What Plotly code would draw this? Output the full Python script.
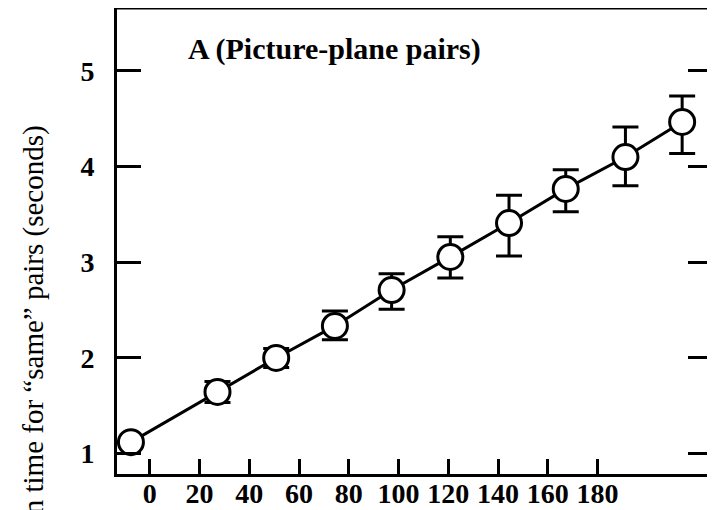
import plotly.graph_objects as go

# Data (x in axis units, y in seconds)
angles = [-7.6, 27.2, 50.8, 74.4, 97.2, 120.8, 144.4, 167.2, 191.2, 214.0]
mean_rt = [1.12, 1.645, 2.00, 2.335, 2.71, 3.056, 3.41, 3.767, 4.10, 4.467]
err_plus = [0.0, 0.11, 0.10, 0.155, 0.17, 0.21, 0.29, 0.20, 0.315, 0.27]
err_minus = [0.0, 0.11, 0.10, 0.145, 0.20, 0.22, 0.345, 0.24, 0.30, 0.33]

x_tick_vals = [0, 20, 40, 60, 80, 100, 120, 140, 160, 180]
y_tick_vals = [1, 2, 3, 4, 5]

title_text = "A (Picture-plane pairs)"
y_title = "Mean reaction time for “same” pairs (seconds)"

SERIF = "Liberation Serif"

# page body has an 8px margin, so the figure is sized/positioned to compensate
PLOT_L, PLOT_R, PLOT_T, PLOT_B = 117, 715, 8, 474
W, H = PLOT_R - PLOT_L, PLOT_B - PLOT_T


def px(xp):
    return (xp - PLOT_L) / W


def py(yp):
    return (PLOT_B - yp) / H


fig = go.Figure()
fig.add_trace(go.Scatter(
    x=angles, y=mean_rt,
    mode="lines+markers",
    line=dict(color="black", width=3),
    marker=dict(symbol="circle", size=25, color="white",
                line=dict(color="black", width=3)),
    error_y=dict(type="data", symmetric=False, array=err_plus,
                 arrayminus=err_minus, color="black", thickness=3, width=13),
    showlegend=False,
))

fig.update_layout(
    width=707, height=502,
    margin=dict(l=109, r=0, t=0, b=36),
    paper_bgcolor="white", plot_bgcolor="white",
    font=dict(family=SERIF, color="black"),
    xaxis=dict(
        range=[-13.2, 226], tickvals=x_tick_vals,
        ticks="inside", ticklen=15, tickwidth=3, tickcolor="black",
        showline=True, linecolor="black", linewidth=3,
        showgrid=False, zeroline=False,
        ticklabelstandoff=-8,
        tickfont=dict(family=SERIF, size=28, color="black", weight="bold"),
    ),
    yaxis=dict(
        range=[0.787, 5.658], tickvals=y_tick_vals,
        ticks="inside", ticklen=24, tickwidth=3, tickcolor="black",
        showline=True, linecolor="black", linewidth=3, mirror="ticks",
        showgrid=False, zeroline=False,
        ticklabelstandoff=14,
        tickfont=dict(family=SERIF, size=28, color="black", weight="bold"),
    ),
    annotations=[
        dict(text=title_text, xref="paper", yref="paper",
             x=px(186), y=py(49),
             xanchor="left", yanchor="middle", showarrow=False,
             font=dict(family=SERIF, size=30, color="black", weight="bold")),
        dict(text=y_title, xref="paper", yref="paper",
             x=px(33), y=py(396),
             xanchor="center", yanchor="middle", textangle=-90, showarrow=False,
             font=dict(family=SERIF, size=29, color="black")),
    ],
    shapes=[
        dict(type="line", xref="paper", yref="paper", x0=0, x1=1.02, y0=1, y1=1,
             line=dict(color="black", width=3)),
    ],
)

fig.write_html("out.html")
